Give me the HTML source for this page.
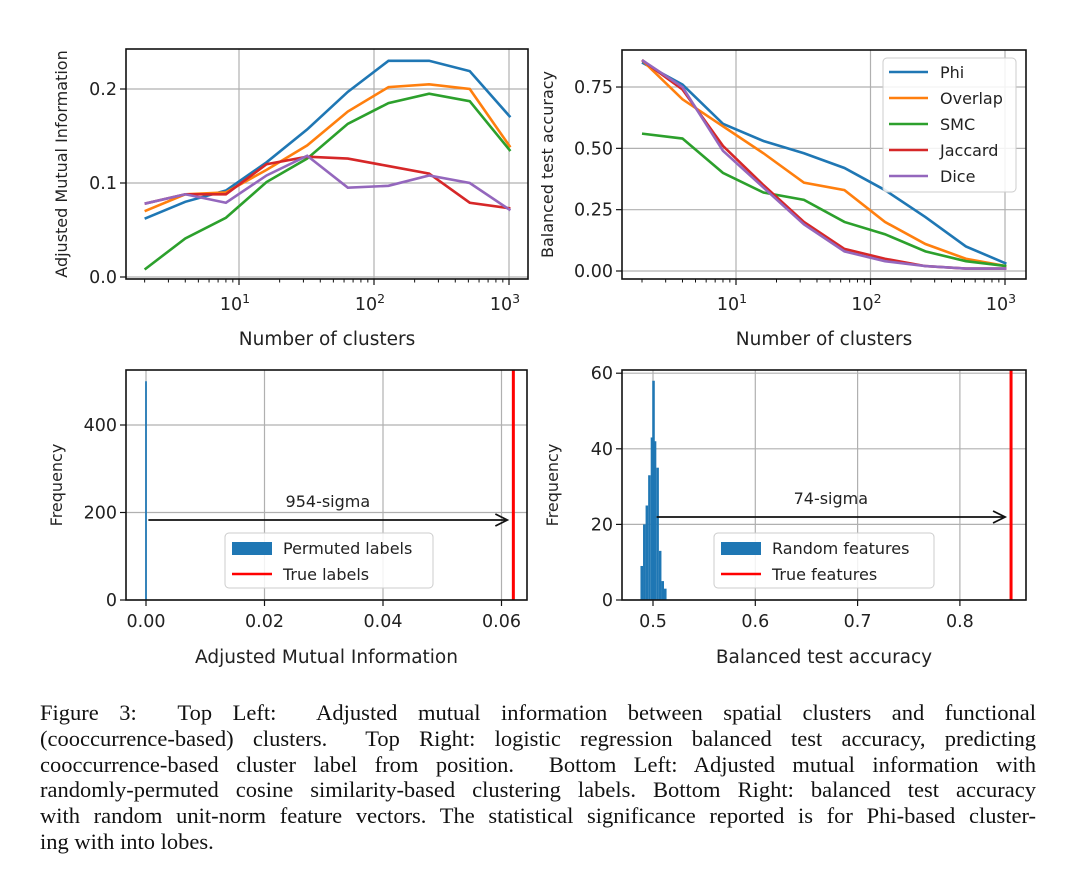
<!DOCTYPE html>
<html><head><meta charset="utf-8"><style>
body{margin:0;background:#fff;width:1080px;height:885px;overflow:hidden;position:relative}
svg{position:absolute;left:0;top:0}
#cap{position:absolute;left:40px;top:700px;width:996px;font-family:"Liberation Serif",serif;font-size:22.5px;line-height:25.8px;color:#111}
#cap div{text-align:justify;text-align-last:justify;white-space:nowrap}
#cap div.last{text-align-last:left}
</style></head><body>
<svg id="fig" width="1080" height="690"></svg>
<div id="cap">
<div>Figure 3:&nbsp; Top Left:&nbsp; Adjusted mutual information between spatial clusters and functional</div>
<div>(cooccurrence-based) clusters.&nbsp; Top Right: logistic regression balanced test accuracy, predicting</div>
<div>cooccurrence-based cluster label from position.&nbsp; Bottom Left: Adjusted mutual information with</div>
<div>randomly-permuted cosine similarity-based clustering labels. Bottom Right: balanced test accuracy</div>
<div>with random unit-norm feature vectors. The statistical significance reported is for Phi-based cluster-</div>
<div class="last">ing with into lobes.</div>
</div>
<script>
const clusters=[2,4,8,16,32,64,128,256,512,1024];
const seriesNames=["Phi","Overlap","SMC","Jaccard","Dice"];
const amiPhi=[0.062,0.080,0.092,0.122,0.157,0.197,0.230,0.230,0.219,0.170];
const amiOverlap=[0.070,0.088,0.090,0.114,0.140,0.176,0.202,0.205,0.200,0.138];
const amiSMC=[0.008,0.041,0.063,0.101,0.126,0.163,0.185,0.195,0.187,0.134];
const amiJaccard=[0.078,0.088,0.088,0.120,0.128,0.126,0.118,0.110,0.079,0.073];
const amiDice=[0.078,0.088,0.079,0.108,0.129,0.095,0.097,0.108,0.100,0.071];
const accPhi=[0.85,0.76,0.60,0.53,0.48,0.42,0.33,0.22,0.10,0.03];
const accOverlap=[0.86,0.70,0.59,0.48,0.36,0.33,0.20,0.11,0.05,0.02];
const accSMC=[0.56,0.54,0.40,0.32,0.29,0.20,0.15,0.08,0.04,0.02];
const accJaccard=[0.86,0.74,0.51,0.35,0.20,0.09,0.05,0.02,0.01,0.01];
const accDice=[0.86,0.75,0.49,0.34,0.19,0.08,0.04,0.02,0.01,0.01];
const amiTicks=[0.0,0.1,0.2];const amiTickLabels=["0.0","0.1","0.2"];
const accTicks=[0,0.25,0.5,0.75];const accTickLabels=["0.00","0.25","0.50","0.75"];
const permBins=[0.0];const permCounts=[500];const trueAMI=0.062;const sigmaAMI="954-sigma";
const permTicks=[0,0.02,0.04,0.06];const permTickLabels=["0.00","0.02","0.04","0.06"];
const freqTicks1=[0,200,400];
const randBins=[0.489,0.4915,0.494,0.4965,0.499,0.5005,0.502,0.5045,0.507,0.5095,0.512];
const randCounts=[9,20,25,33,43,58,42,35,13,5,3];const randWidth=0.0025;
const trueAcc=0.85;const sigmaAcc="74-sigma";
const randTicks=[0.5,0.6,0.7,0.8];const randTickLabels=["0.5","0.6","0.7","0.8"];
const freqTicks2=[0,20,40,60];
const colors=["#1f77b4","#ff7f0e","#2ca02c","#d62728","#9467bd"];
const svg=document.getElementById('fig');const NS="http://www.w3.org/2000/svg";
function el(t,a,p){const e=document.createElementNS(NS,t);for(const k in a)e.setAttribute(k,a[k]);(p||svg).appendChild(e);return e;}
function txt(s,a,p){const e=el('text',Object.assign({'font-family':'DejaVu Sans, Liberation Sans, sans-serif','font-size':17.5,fill:'#222'},a),p);e.textContent=s;return e;}
function frame(g,L,T,R,B){el('rect',{x:L,y:T,width:R-L,height:B-T,fill:'none',stroke:'#111','stroke-width':1.6},g);}
function panelLog(name,L,T,R,B,x10,dec,y0,ypx,yt,ytl,data,ylab,ylx){
 const g=el('g',{});
 const X=v=>x10+(Math.log10(v)-1)*dec, Y=v=>y0-v*ypx;
 [1,2,3].forEach(p=>{const x=X(Math.pow(10,p));el('line',{x1:x,x2:x,y1:T,y2:B,stroke:'#b0b0b0','stroke-width':1.2},g);el('line',{x1:x,x2:x,y1:B,y2:B+6,stroke:'#111','stroke-width':1.2},g);
  const t=txt('10',{x:x-4,y:B+31,'text-anchor':'middle'},g);const s=el('tspan',{dy:-7,'font-size':12.5},t);s.textContent=p;});
 for(let p=0;p<3;p++)for(let m=2;m<10;m++){const v=m*Math.pow(10,p);if(v<1.8||v>1100)continue;const x=X(v);el('line',{x1:x,x2:x,y1:B,y2:B+3.5,stroke:'#111','stroke-width':1},g);}
 yt.forEach((v,i)=>{const y=Y(v);el('line',{x1:L,x2:R,y1:y,y2:y,stroke:'#b0b0b0','stroke-width':1.2},g);el('line',{x1:L-6,x2:L,y1:y,y2:y,stroke:'#111','stroke-width':1.2},g);txt(ytl[i],{x:L-9,y:y+6,'text-anchor':'end'},g);});
 data.forEach((d,i)=>{const pl=el('polyline',{points:clusters.map((c,j)=>X(c)+','+Y(d[j])).join(' '),fill:'none',stroke:colors[i],'stroke-width':2.6},g);});
 frame(g,L,T,R,B);
 txt('Number of clusters',{x:(L+R)/2,y:B+66,'text-anchor':'middle','font-size':18.5},g);
 txt(ylab,{x:0,y:0,'text-anchor':'middle','font-size':16,transform:`translate(${ylx},${(T+B)/2}) rotate(-90)`},g);
 return g;}
panelLog('ami-vs-clusters-plot',126,49,528,279,239,135,277,940,amiTicks,amiTickLabels,[amiPhi,amiOverlap,amiSMC,amiJaccard,amiDice],'Adjusted Mutual Information',67);
panelLog('accuracy-vs-clusters-plot',622,50,1026,279,736,134.5,271,245.3,accTicks,accTickLabels,[accPhi,accOverlap,accSMC,accJaccard,accDice],'Balanced test accuracy',553);
const lg=el('g',{});
el('rect',{x:883,y:58,width:133,height:134,rx:4,fill:'#fff','fill-opacity':0.85,stroke:'#ccc'},lg);
seriesNames.forEach((n,i)=>{const y=72+i*26;el('line',{x1:889,x2:928,y1:y,y2:y,stroke:colors[i],'stroke-width':2.6},lg);txt(n,{x:940,y:y+6,'font-size':16},lg);});
function hist(name,L,T,R,B,x0,xs,xv,y0,ys,xt,xtl,yt,bins,counts,w,trueV,sig,arrowY,arrowStart,legTexts,lgX,xlab){
 const g=el('g',{});
 const X=v=>x0+(v-xv)*xs, Y=v=>y0-v*ys;
 xt.forEach((v,i)=>{const x=X(v);el('line',{x1:x,x2:x,y1:T,y2:B,stroke:'#b0b0b0','stroke-width':1.2},g);el('line',{x1:x,x2:x,y1:B,y2:B+6,stroke:'#111','stroke-width':1.2},g);txt(xtl[i],{x:x,y:B+27,'text-anchor':'middle'},g);});
 yt.forEach(v=>{const y=Y(v);el('line',{x1:L,x2:R,y1:y,y2:y,stroke:'#b0b0b0','stroke-width':1.2},g);el('line',{x1:L-6,x2:L,y1:y,y2:y,stroke:'#111','stroke-width':1.2},g);txt(String(v),{x:L-9,y:y+6,'text-anchor':'end'},g);});
 bins.forEach((b,i)=>{const x1=X(b-w/2),x2=X(b+w/2);const r=el('rect',{x:x1,y:Y(counts[i]),width:Math.max(x2-x1,1.5),height:Y(0)-Y(counts[i]),fill:'#1f77b4'},g);});
 el('line',{x1:X(trueV),x2:X(trueV),y1:T,y2:B,stroke:'#ff0000','stroke-width':3},g);
 const ax=X(arrowStart),bx=X(trueV)-6;
 el('line',{x1:ax,x2:bx-2,y1:arrowY,y2:arrowY,stroke:'#111','stroke-width':1.8},g);
 el('polyline',{points:`${bx-12},${arrowY-6} ${bx},${arrowY} ${bx-12},${arrowY+6}`,fill:'none',stroke:'#111','stroke-width':1.8},g);
 txt(sig,{x:(ax+bx)/2,y:arrowY-13,'text-anchor':'middle','font-size':16},g);
 el('rect',{x:lgX,y:533,width:lgX===225?208:220,height:55,rx:4,fill:'#fff','fill-opacity':0.85,stroke:'#ccc'},g);
 el('rect',{x:lgX+7,y:542,width:40,height:13,fill:'#1f77b4'},g);txt(legTexts[0],{x:lgX+58,y:554,'font-size':16},g);
 el('line',{x1:lgX+7,x2:lgX+47,y1:574,y2:574,stroke:'#ff0000','stroke-width':2.6},g);txt(legTexts[1],{x:lgX+58,y:580,'font-size':16},g);
 frame(g,L,T,R,B);
 txt(xlab,{x:(L+R)/2,y:B+63,'text-anchor':'middle','font-size':18.5},g);
 txt('Frequency',{x:0,y:0,'text-anchor':'middle','font-size':16,transform:`translate(${L-64},${(T+B)/2}) rotate(-90)`},g);
}
hist('ami-permutation-histogram',126,370,527,600,146,5925,0,600,0.4375,permTicks,permTickLabels,freqTicks1,permBins,permCounts,0.0003,trueAMI,sigmaAMI,520,0.0004,['Permuted labels','True labels'],225,'Adjusted Mutual Information');
hist('accuracy-random-histogram',622,370,1026,600,653,1023,0.5,600,3.78,randTicks,randTickLabels,freqTicks2,randBins,randCounts,randWidth,trueAcc,sigmaAcc,517,0.5035,['Random features','True features'],714,'Balanced test accuracy');
</script>
</body></html>
